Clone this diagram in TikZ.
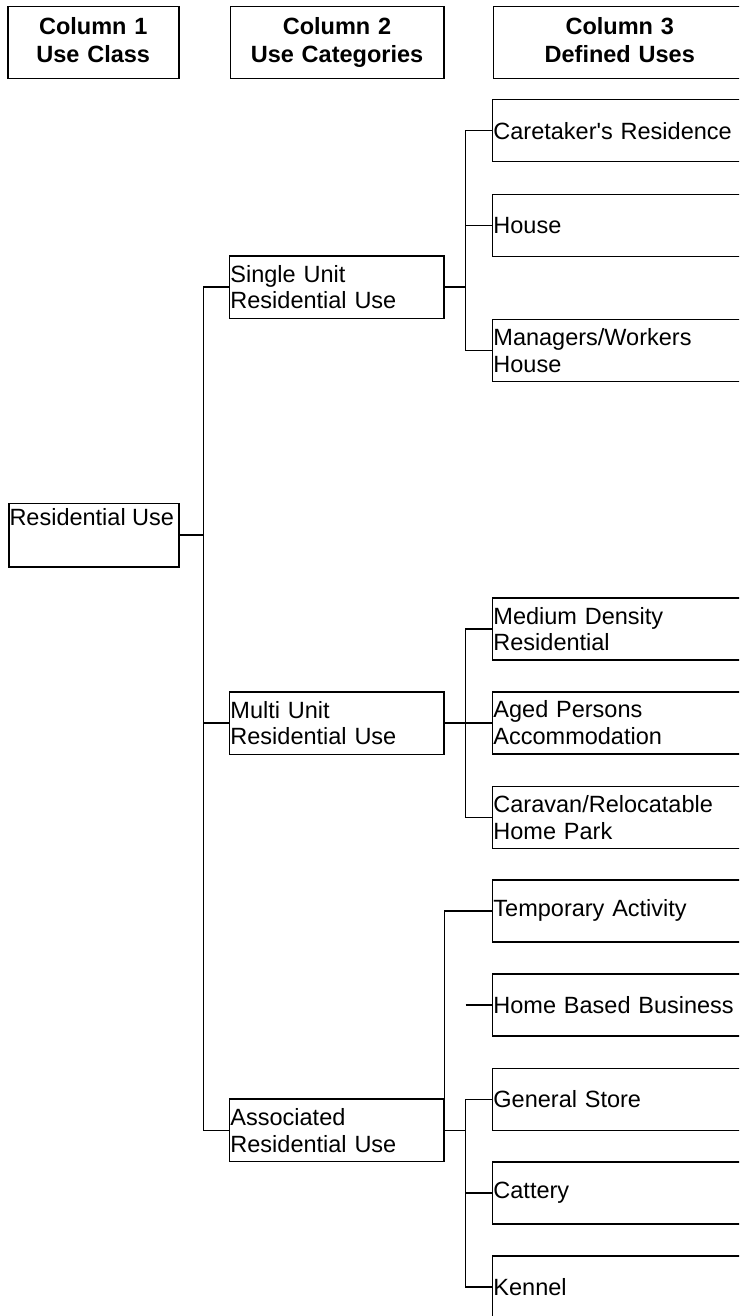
\documentclass[tikz,border=0pt]{standalone}
\usepackage{fontspec}
\setmainfont{Liberation Sans}[Ligatures=TeXOff]
\begin{document}
\begin{tikzpicture}[x=1pt,y=-1pt,
  txt/.style={font=\fontsize{23.5}{26.7}\selectfont},
  box/.style={txt, draw, line width=1.5pt, inner xsep=1pt, inner ysep=0pt,
    align=left, anchor=north west, minimum height=62pt},
  colA/.style={box, text width=168pt, minimum height=63.3pt},
  colB/.style={box, text width=212.3pt, minimum height=62.5pt},
  colC/.style={box, text width=252.3pt},
  head/.style={draw, line width=1.5pt, inner sep=0pt, anchor=north west,
    align=center, minimum height=72pt,
    font=\fontsize{23.5}{28.4}\selectfont\bfseries},
  link/.style={line width=1.5pt}
]
\useasboundingbox (0,0) rectangle (739,1316);
\clip (0,0) rectangle (739,1316);

% column headings
\node[head, text width=171pt]   (h1) at (7,6)     {\strut Column 1\\\strut Use Class};
\node[head, text width=213.5pt] (h2) at (229.5,6) {\strut Column 2\\\strut Use Categories};
\node[head, text width=253pt]   (h3) at (492.5,6) {\strut Column 3\\\strut Defined Uses};

% use class
\node[colA] (ru) at (8.3,502.7) {};
\node[txt, anchor=base west, inner sep=0pt] (rut) at ([xshift=1pt,yshift=-22.3pt]ru.north west) {Residential Use};

% use categories
\node[colB] (su) at (228.7,255)    {Single Unit\\Residential Use};
\node[colB] (mu) at (228.7,691)    {Multi Unit\\Residential Use};
\node[colB] (as) at (228.7,1098.3) {Associated\\Residential Use};

% defined uses
\node[colC] (ct) at (491.7,99)     {Caretaker's Residence};
\node[colC] (ho) at (491.7,193.7)  {House};
\node[colC] (mw) at (491.7,318.7)  {Managers/Workers\\House};
\node[colC] (md) at (491.7,597.3)  {Medium Density\\Residential};
\node[colC] (ap) at (491.7,691)    {Aged Persons\\Accommodation};
\node[colC] (cv) at (491.7,785.7)  {Caravan/Relocatable\\Home Park};
\node[colC] (ta) at (491.7,879)    {Temporary Activity};
\node[colC] (hb) at (491.7,973.3)  {Home Based Business};
\node[colC] (gs) at (491.7,1067.7) {General Store};
\node[colC] (ca) at (491.7,1161)   {Cattery};
\node[colC] (ke) at (491.7,1255)   {Kennel};

% spines
\coordinate (trunk) at (203.5,0);
\coordinate (spine) at (465.5,0);
\coordinate (hbfree) at (hb.west -| spine);

% class to categories
\draw[link] (ru.east) -- (ru.east -| trunk);
\draw[link] (su.west) -- (su.west -| trunk) -- (as.west -| trunk) -- (as.west);
\draw[link] (mu.west) -- (mu.west -| trunk);

% single unit
\draw[link] (su.east) -- (su.east -| spine);
\draw[link] (ct.west) -- (ct.west -| spine) -- (mw.west -| spine) -- (mw.west);
\draw[link] (ho.west) -- (ho.west -| spine);

% multi unit
\draw[link] (mu.east) -- (mu.east -| spine);
\draw[link] (md.west) -- (md.west -| spine) -- (cv.west -| spine) -- (cv.west);
\draw[link] (ap.west) -- (ap.west -| spine);

% associated
\draw[link] (as.north east) |- (ta.west);
\draw[link] (hbfree) -- (hb.west);
\draw[link] (as.east) -- (as.east -| spine);
\draw[link] (gs.west) -- (gs.west -| spine) -- (ke.west -| spine) -- (ke.west);
\draw[link] (ca.west) -- (ca.west -| spine);
\end{tikzpicture}
\end{document}
